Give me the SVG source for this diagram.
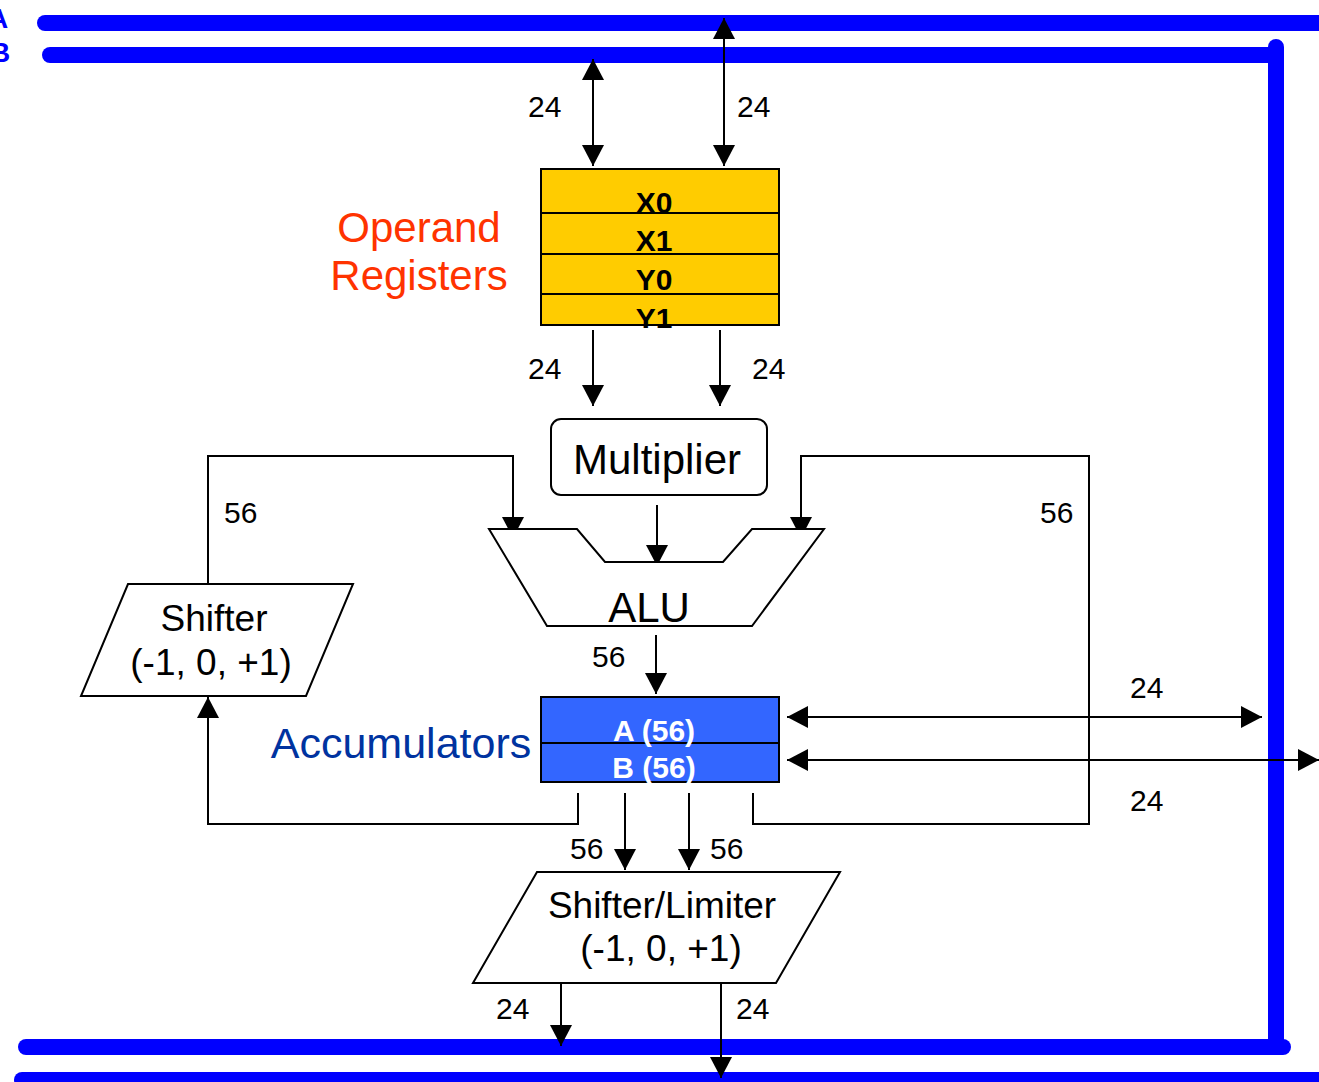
<svg xmlns="http://www.w3.org/2000/svg" width="1319" height="1082" viewBox="0 0 1319 1082">
  <style>
    .bus { stroke: #0000FF; stroke-width: 16; stroke-linecap: round; fill: none; }
    .wire { stroke: #000; stroke-width: 2; fill: none; }
    .arr { marker-end: url(#ah); }
    .arr2 { marker-start: url(#ah); marker-end: url(#ah); }
    .shape { fill: #fff; stroke: #000; stroke-width: 2; }
    .lbl { font-family: "Liberation Sans", Arial, sans-serif; font-size: 30px; fill: #000; }
    .big { font-family: "Liberation Sans", Arial, sans-serif; font-size: 42px; fill: #000; text-anchor: middle; }
    .mid { font-family: "Liberation Sans", Arial, sans-serif; font-size: 37px; fill: #000; text-anchor: middle; }
    .reg { font-family: "Liberation Sans", Arial, sans-serif; font-size: 30px; font-weight: bold; text-anchor: middle; }
    .busname { font-family: "Liberation Sans", Arial, sans-serif; font-size: 28px; font-weight: bold; fill: #0000FF; }
  </style>
  <defs>
    <marker id="ah" markerUnits="userSpaceOnUse" markerWidth="21" markerHeight="22" viewBox="0 0 21 22" refX="21" refY="11" orient="auto-start-reverse">
      <path d="M0,0 L21,11 L0,22 Z" fill="#000"/>
    </marker>
    <clipPath id="regclip">
      <rect x="541" y="169" width="238" height="159"/>
    </clipPath>
  </defs>

  <rect width="1319" height="1082" fill="#fff"/>

  <!-- data buses -->
  <g id="buses">
    <line class="bus" x1="45" y1="23" x2="1330" y2="23"/>
    <line class="bus" x1="50" y1="55" x2="1276" y2="55"/>
    <line class="bus" x1="1276" y1="47" x2="1276" y2="1047"/>
    <line class="bus" x1="26" y1="1047" x2="1283" y2="1047"/>
    <line class="bus" x1="22" y1="1080" x2="1330" y2="1080"/>
    <text class="busname" x="-12" y="28">A</text>
    <text class="busname" x="-10" y="62">B</text>
  </g>

  <!-- connectors -->
  <g id="connectors">
    <!-- buses to operand registers -->
    <line class="wire arr2" x1="593" y1="59" x2="593" y2="166"/>
    <line class="wire arr2" x1="724" y1="18" x2="724" y2="166"/>
    <!-- operand registers to multiplier -->
    <line class="wire arr" x1="593" y1="330" x2="593" y2="406"/>
    <line class="wire arr" x1="720" y1="330" x2="720" y2="406"/>
    <!-- multiplier to ALU -->
    <line class="wire arr" x1="657" y1="505" x2="657" y2="566"/>
    <!-- left feedback via shifter -->
    <polyline class="wire" points="208,583 208,456 513,456"/>
    <line class="wire arr" x1="513" y1="455" x2="513" y2="538"/>
    <polyline class="wire arr" points="578,793 578,824 208,824 208,697"/>
    <!-- right feedback -->
    <polyline class="wire" points="753,793 753,824 1089,824 1089,456 801,456"/>
    <line class="wire arr" x1="801" y1="455" x2="801" y2="538"/>
    <!-- ALU to accumulators -->
    <line class="wire arr" x1="656" y1="635" x2="656" y2="694"/>
    <!-- accumulators to/from buses -->
    <line class="wire arr2" x1="787" y1="717" x2="1262" y2="717"/>
    <line class="wire arr2" x1="787" y1="760" x2="1319" y2="760"/>
    <!-- accumulators to shifter/limiter -->
    <line class="wire arr" x1="625" y1="793" x2="625" y2="870"/>
    <line class="wire arr" x1="689" y1="793" x2="689" y2="870"/>
    <!-- shifter/limiter to buses -->
    <line class="wire arr" x1="561" y1="983" x2="561" y2="1046"/>
    <line class="wire arr" x1="721" y1="983" x2="721" y2="1078"/>

    <text class="lbl" x="528" y="117">24</text>
    <text class="lbl" x="737" y="117">24</text>
    <text class="lbl" x="528" y="379">24</text>
    <text class="lbl" x="752" y="379">24</text>
    <text class="lbl" x="224" y="523">56</text>
    <text class="lbl" x="1040" y="523">56</text>
    <text class="lbl" x="592" y="667">56</text>
    <text class="lbl" x="1130" y="698">24</text>
    <text class="lbl" x="1130" y="811">24</text>
    <text class="lbl" x="570" y="859">56</text>
    <text class="lbl" x="710" y="859">56</text>
    <text class="lbl" x="496" y="1019">24</text>
    <text class="lbl" x="736" y="1019">24</text>
  </g>

  <!-- operand registers -->
  <g id="operand-registers">
    <rect x="541" y="169" width="238" height="156" fill="#FFCC00" stroke="#000" stroke-width="2"/>
    <line class="wire" x1="541" y1="213" x2="779" y2="213"/>
    <line class="wire" x1="541" y1="254" x2="779" y2="254"/>
    <line class="wire" x1="541" y1="294" x2="779" y2="294"/>
    <g clip-path="url(#regclip)">
      <text class="reg" x="654" y="213">X0</text>
      <text class="reg" x="654" y="251">X1</text>
      <text class="reg" x="654" y="290">Y0</text>
      <text class="reg" x="654" y="329">Y1</text>
    </g>
    <text class="big" x="419" y="242" style="fill:#FF3300">Operand</text>
    <text class="big" x="419" y="290" style="fill:#FF3300">Registers</text>
  </g>

  <!-- multiplier -->
  <g id="multiplier">
    <rect class="shape" x="551" y="419" width="216" height="76" rx="10"/>
    <text class="big" x="657" y="474">Multiplier</text>
  </g>

  <!-- ALU -->
  <g id="alu">
    <polygon class="shape" points="489,529 577,529 605,562 723,562 752,529 824,529 752,626 547,626"/>
    <text class="big" x="649" y="622">ALU</text>
  </g>

  <!-- feedback shifter -->
  <g id="shifter">
    <polygon class="shape" points="128,584 353,584 306,696 81,696"/>
    <text class="mid" x="214" y="631">Shifter</text>
    <text class="mid" x="211" y="675">(-1, 0, +1)</text>
  </g>

  <!-- accumulators -->
  <g id="accumulators">
    <rect x="541" y="697" width="238" height="85" fill="#3366FF" stroke="#000" stroke-width="2"/>
    <line class="wire" x1="541" y1="743" x2="779" y2="743"/>
    <text class="reg" x="654" y="741" fill="#fff">A (56)</text>
    <text class="reg" x="654" y="778" fill="#fff">B (56)</text>
    <text class="big" x="401" y="758" style="fill:#0033A0;font-size:43px">Accumulators</text>
  </g>

  <!-- output shifter / limiter -->
  <g id="shifter-limiter">
    <polygon class="shape" points="537,872 840,872 776,983 473,983"/>
    <text class="mid" x="662" y="918">Shifter/Limiter</text>
    <text class="mid" x="661" y="961">(-1, 0, +1)</text>
  </g>
</svg>
